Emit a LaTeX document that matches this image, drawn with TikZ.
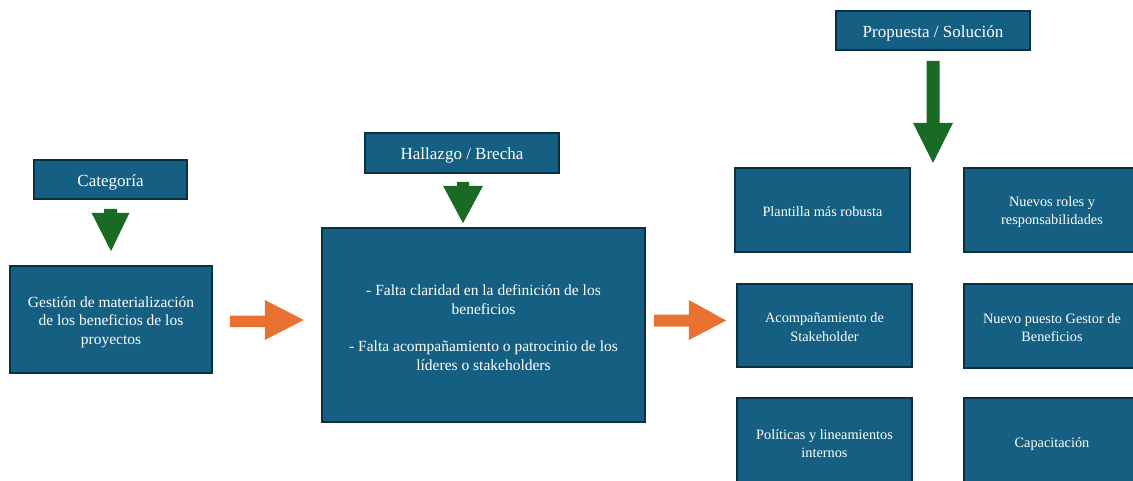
\documentclass[tikz,border=0pt]{standalone}
\usepackage{fontspec}
\setmainfont{Liberation Serif}
\usetikzlibrary{calc}
\definecolor{boxblue}{HTML}{156082}
\definecolor{boxline}{HTML}{0A3041}
\definecolor{arrgreen}{HTML}{196B24}
\definecolor{arrorange}{HTML}{E97132}
\tikzset{
  box/.style={draw=boxline, line width=1.6pt, fill=boxblue, inner sep=0pt},
  tx/.style={text=white, align=center, inner sep=0pt},
  titletx/.style={tx, font=\fontsize{17}{20}\selectfont},
  midtx/.style={tx, font=\fontsize{15.5}{18.7}\selectfont},
  soltx/.style={tx, font=\fontsize{14.3}{18.5}\selectfont},
  solbox/.style={box, minimum width=175pt},
  greenarrow/.style={fill=arrgreen},
  orangearrow/.style={fill=arrorange},
}
\begin{document}
\begin{tikzpicture}[x=1pt,y=-1pt]
\useasboundingbox (0,0) rectangle (1133,481);
% title boxes
\node[box, minimum width=153pt, minimum height=39pt] (cat) at (110.5,179.5) {};
\node[box, minimum width=194pt, minimum height=40pt] (hall) at (462,153) {};
\node[box, minimum width=194pt, minimum height=39pt] (prop) at (933,30.5) {};
\node[titletx] (catT) at ($(cat)+(0,2.5)$) {Categoría};
\node[titletx] (hallT) at ($(hall)+(0,2.5)$) {Hallazgo / Brecha};
\node[titletx] (propT) at ($(prop)+(0,2.5)$) {Propuesta / Solución};
% left and middle boxes
\node[box, minimum width=202pt, minimum height=107pt] (gest) at (111,319.5) {};
\node[box, minimum width=323pt, minimum height=194pt] (main) at (483.5,325) {};
\node[midtx] (gestT) at ($(gest)+(0,2.5)$)
  {Gestión de materialización\\de los beneficios de los\\proyectos};
\node[midtx] (mainT) at ($(main)+(0,2.5)$)
  {- Falta claridad en la definición de los\\beneficios\\[18.7pt]- Falta acompañamiento o patrocinio de los\\líderes o stakeholders};
% solution boxes
\node[solbox, minimum height=84pt] (p1) at (822.5,210) {};
\node[solbox, minimum width=176pt, minimum height=84pt] (p2) at (1052,210) {};
\node[solbox, minimum height=83pt] (p3) at (824.5,325.5) {};
\node[solbox, minimum width=176pt, minimum height=84pt] (p4) at (1052,326) {};
\node[solbox, minimum height=88pt] (p5) at (824.5,442) {};
\node[solbox, minimum width=176pt, minimum height=88pt] (p6) at (1052,442) {};
\node[soltx] (p1T) at ($(p1)+(0,2)$) {Plantilla más robusta};
\node[soltx] (p2T) at ($(p2)+(0,2)$) {Nuevos roles y\\responsabilidades};
\node[soltx] (p3T) at ($(p3)+(0,1.5)$) {Acompañamiento de\\Stakeholder};
\node[soltx] (p4T) at ($(p4)+(0,1.5)$) {Nuevo puesto Gestor de\\Beneficios};
\node[soltx] (p5T) at ($(p5)+(0,1.5)$) {Políticas y lineamientos\\internos};
\node[soltx] (p6T) at ($(p6)+(0,2)$) {Capacitación};
% green arrows
\fill[greenarrow] ($(cat.south)+(-6.5,9)$) -- ($(cat.south)+(6.5,9)$) -- ($(cat.south)+(6.5,13)$)
  -- ($(cat.south)+(19,13)$) -- ($(gest.north)+(0,-14)$) -- ($(cat.south)+(-19,13)$)
  -- ($(cat.south)+(-6.5,13)$) -- cycle;
\fill[greenarrow] ($(hall.south)+(-5,8)$) -- ($(hall.south)+(7,8)$) -- ($(hall.south)+(7,12)$)
  -- ($(hall.south)+(21,12)$) -- ($(main.north)+(-20.5,-4)$) -- ($(hall.south)+(-19,12)$)
  -- ($(hall.south)+(-5,12)$) -- cycle;
\fill[greenarrow] ($(prop.south)+(-6.5,10)$) -- ($(prop.south)+(6.5,10)$) -- ($(prop.south)+(6.5,72)$)
  -- ($(prop.south)+(20,72)$) -- ($(prop.south)+(0,112)$) -- ($(prop.south)+(-20,72)$)
  -- ($(prop.south)+(-6.5,72)$) -- cycle;
% orange arrows
\fill[orangearrow] ($(gest.east)+(17,-4)$) -- ($(gest.east)+(52,-4)$) -- ($(gest.east)+(52,-19.5)$)
  -- ($(gest.east)+(91,0.5)$) -- ($(gest.east)+(52,20.5)$) -- ($(gest.east)+(52,7.5)$)
  -- ($(gest.east)+(17,7.5)$) -- cycle;
\fill[orangearrow] ($(main.east)+(8,-10.5)$) -- ($(main.east)+(43,-10.5)$) -- ($(main.east)+(43,-25)$)
  -- ($(p3.west)+(-10,-5)$) -- ($(main.east)+(43,15)$) -- ($(main.east)+(43,1.5)$)
  -- ($(main.east)+(8,1.5)$) -- cycle;
\end{tikzpicture}
\end{document}
